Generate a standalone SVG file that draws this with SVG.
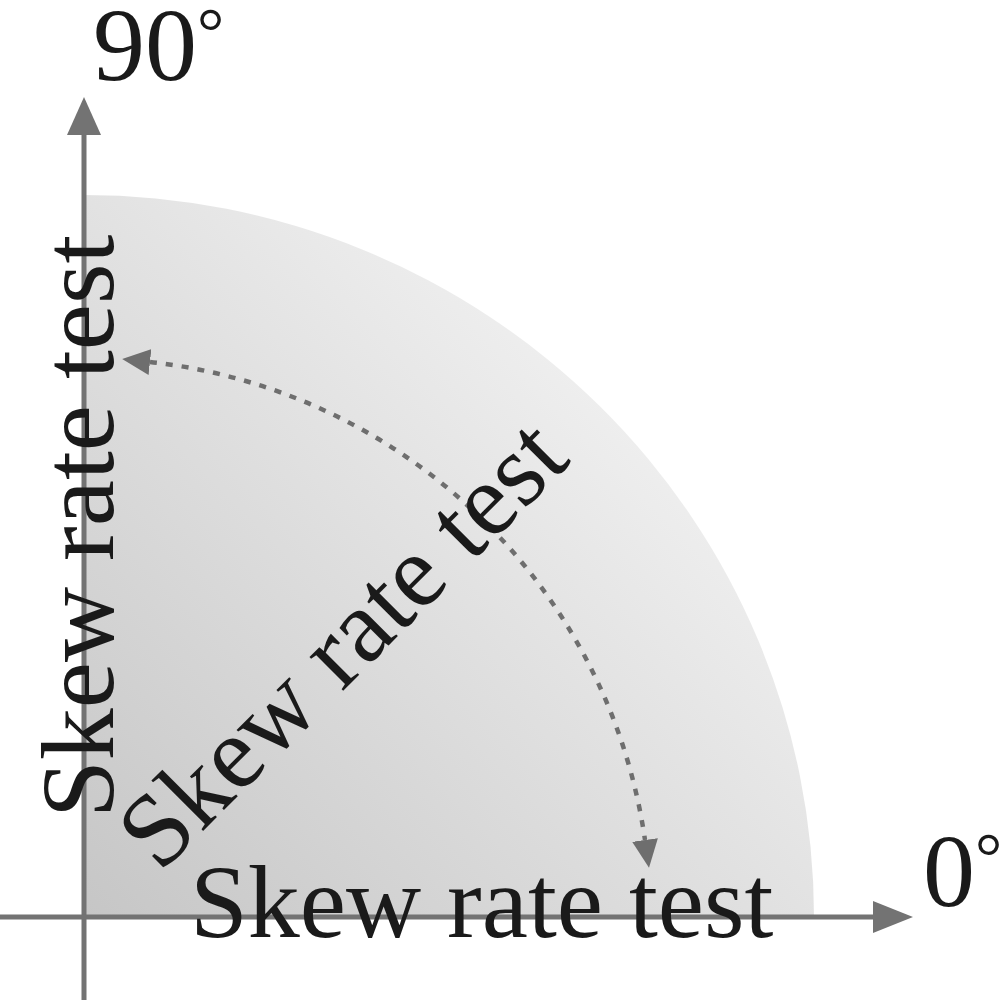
<svg xmlns="http://www.w3.org/2000/svg" width="1001" height="1000" viewBox="0 0 1001 1000">
<style>
.lbl{font-family:"Liberation Serif","Times New Roman",serif;font-size:104px;fill:#1a1a1a}
.axis{stroke:#737373;stroke-width:5;fill:none}
.head{fill:#737373}
.dash{stroke:#6e6e6e;stroke-width:4.5;fill:none;stroke-dasharray:7 9}
</style>
<defs>
<linearGradient id="g" gradientUnits="userSpaceOnUse" x1="84" y1="917" x2="600" y2="400">
<stop offset="0" stop-color="#c6c6c6"/>
<stop offset="1" stop-color="#eeeeee"/>
</linearGradient>
<marker id="ah" viewBox="0 0 28 26" refX="0" refY="13" markerWidth="28" markerHeight="26" markerUnits="userSpaceOnUse" orient="auto-start-reverse">
<path d="M0,0 L28,13 L0,26 z" fill="#6e6e6e"/>
</marker>
</defs>
<g id="sector">
<path d="M84,917 L84,195 A730,722 0 0 1 814,917 Z" fill="url(#g)"/>
</g>
<g id="connectors">
<line class="axis" x1="84" y1="1000" x2="84" y2="132"/>
<polygon class="head" points="84,97 67,135 101,135"/>
<line class="axis" x1="0" y1="917" x2="876" y2="917"/>
<polygon class="head" points="913,917 873,901 873,933"/>
<path class="dash" d="M150,362 A562,562 0 0 1 645,840" marker-start="url(#ah)" marker-end="url(#ah)"/>
</g>
<g id="label-90">
<text class="lbl" x="93" y="80">90<tspan font-size="68" dy="-25">°</tspan></text>
</g>
<g id="label-0">
<text class="lbl" x="923" y="906">0<tspan font-size="68" dy="-26">°</tspan></text>
</g>
<g id="text-vertical">
<text class="lbl" transform="translate(113,818) rotate(-90)">Skew rate test</text>
</g>
<g id="text-diagonal">
<text class="lbl" transform="translate(160,874) rotate(-45)">Skew rate test</text>
</g>
<g id="text-horizontal">
<text class="lbl" x="190" y="937">Skew rate test</text>
</g>
</svg>
